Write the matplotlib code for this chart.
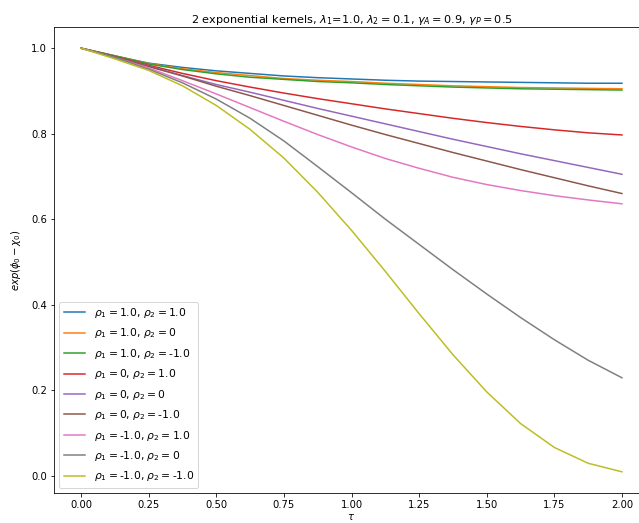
import numpy as np
import matplotlib.pyplot as plt

# tau grid the curves were read at
tau = [0.0, 0.125, 0.25, 0.375, 0.5, 0.625, 0.75, 0.875, 1.0,
       1.125, 1.25, 1.375, 1.5, 1.625, 1.75, 1.875, 2.0]

# exp(phi_0 - chi_0) for each (rho_1, rho_2) pair
rho_pairs = [("1.0", "1.0"), ("1.0", "0"), ("1.0", "-1.0"),
             ("0", "1.0"), ("0", "0"), ("0", "-1.0"),
             ("-1.0", "1.0"), ("-1.0", "0"), ("-1.0", "-1.0")]

v_p1_p1 = [1.0, 0.982, 0.965, 0.955, 0.947, 0.941, 0.935, 0.931, 0.928,
           0.925, 0.923, 0.922, 0.921, 0.920, 0.919, 0.918, 0.918]
v_p1_0 = [1.0, 0.982, 0.964, 0.952, 0.943, 0.936, 0.929, 0.925, 0.922,
          0.918, 0.915, 0.912, 0.910, 0.908, 0.907, 0.906, 0.905]
v_p1_m1 = [1.0, 0.982, 0.963, 0.950, 0.940, 0.932, 0.927, 0.922, 0.919,
           0.915, 0.912, 0.909, 0.907, 0.905, 0.904, 0.903, 0.902]
v_0_p1 = [1.0, 0.980, 0.960, 0.941, 0.924, 0.909, 0.895, 0.882, 0.870,
          0.858, 0.847, 0.836, 0.826, 0.817, 0.809, 0.802, 0.797]
v_0_0 = [1.0, 0.979, 0.958, 0.936, 0.915, 0.897, 0.878, 0.859, 0.841,
         0.823, 0.805, 0.787, 0.770, 0.753, 0.737, 0.721, 0.705]
v_0_m1 = [1.0, 0.979, 0.957, 0.935, 0.911, 0.889, 0.866, 0.843, 0.820,
          0.798, 0.777, 0.756, 0.736, 0.716, 0.697, 0.678, 0.660]
v_m1_p1 = [1.0, 0.978, 0.954, 0.924, 0.893, 0.861, 0.829, 0.798, 0.769,
           0.742, 0.719, 0.698, 0.681, 0.667, 0.655, 0.645, 0.636]
v_m1_0 = [1.0, 0.978, 0.951, 0.919, 0.881, 0.836, 0.783, 0.723, 0.662,
          0.600, 0.541, 0.482, 0.425, 0.370, 0.318, 0.270, 0.229]
v_m1_m1 = [1.0, 0.975, 0.948, 0.912, 0.866, 0.810, 0.743, 0.663, 0.574,
           0.478, 0.379, 0.283, 0.196, 0.122, 0.066, 0.029, 0.009]

series = [v_p1_p1, v_p1_0, v_p1_m1, v_0_p1, v_0_0, v_0_m1,
          v_m1_p1, v_m1_0, v_m1_m1]

fig = plt.figure(figsize=(639 / 72, 523 / 72), dpi=72)
ax = fig.add_axes([54 / 639, 30 / 523, 595 / 639, 466 / 523])

for (r1, r2), vals in zip(rho_pairs, series):
    ax.plot(tau, vals, label=r"$\rho_1 = $" + r1 + r", $\rho_2 = $" + r2)

ax.set_title(r"2 exponential kernels, $\lambda_1$=1.0, $\lambda_2 = 0.1$, "
             r"$\gamma_A = 0.9$, $\gamma_P = 0.5$", fontsize=11.2, pad=4)
ax.set_xlabel(r"$\tau$", labelpad=2)
ax.set_ylabel(r"$exp(\phi_0 - \chi_0)$", labelpad=8)
ax.legend(loc="lower left", fontsize=10.7, labelspacing=0.6)

fig.savefig("out.png", dpi=72)
